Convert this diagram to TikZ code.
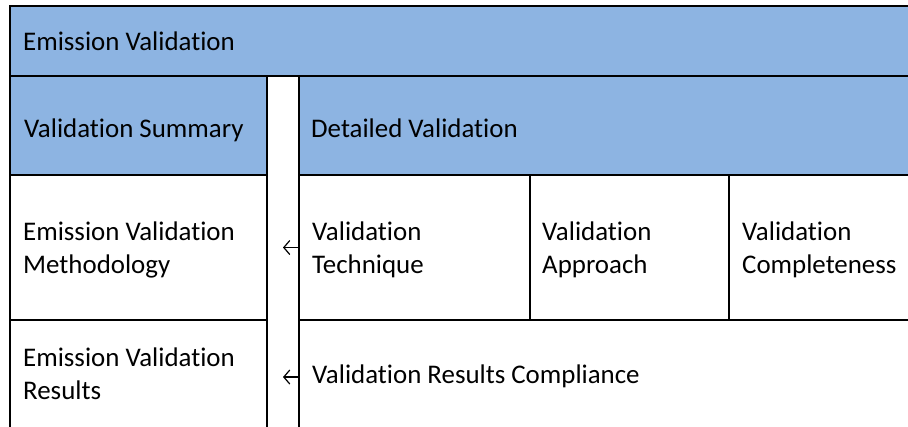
\documentclass[tikz,border=0pt]{standalone}
\usepackage{fontspec}
\setmainfont[Ligatures=NoCommon]{Carlito}
\usetikzlibrary{arrows.meta,calc}
\definecolor{hdr}{RGB}{141,180,226}
\begin{document}
\begin{tikzpicture}[x=1pt,y=-1pt,
  cell/.style={draw=black, line width=1.8pt, rectangle, inner sep=0pt, outer sep=0pt, anchor=north west},
  hcell/.style={cell, fill=hdr},
  lbl/.style={anchor=base west, inner sep=0pt, align=left, font=\fontsize{26.9}{32.3}\selectfont},
  arr/.style={-{Straight Barb[length=6pt,width=14pt,line width=1.2pt]}, line width=1.2pt}]
\useasboundingbox (0,0) rectangle (908,426);
\clip (0,0) rectangle (908,426);
% cells
\node[hcell, minimum width=950pt, minimum height=70pt] (top) at (10,6) {};
\node[hcell, minimum width=257pt, minimum height=99pt] (sum) at (10,76) {};
\node[hcell, minimum width=660pt, minimum height=99pt] (det) at (299,76) {};
\node[cell, minimum width=257pt, minimum height=145pt] (meth) at (10,175) {};
\node[cell, minimum width=231pt, minimum height=145pt] (tech) at (299,175) {};
\node[cell, minimum width=199pt, minimum height=145pt] (appr) at (530,175) {};
\node[cell, minimum width=240pt, minimum height=145pt] (comp) at (729,175) {};
\node[cell, minimum width=257pt, minimum height=140pt] (res) at (10,320) {};
\node[cell, minimum width=660pt, minimum height=140pt] (compl) at (299,320) {};
% labels
\node[lbl] (ltop) at (23,50) {Emission Validation};
\node[lbl] (lsum) at (24,137) {Validation Summary};
\node[lbl] (ldet) at (311,137) {Detailed Validation};
\node[lbl] (lmeth) at (23,273) {Emission Validation\\Methodology};
\node[lbl] (ltech) at (312,273) {Validation\\Technique};
\node[lbl] (lappr) at (542,273) {Validation\\Approach};
\node[lbl] (lcomp) at (742,273) {Validation\\Completeness};
\node[lbl] (lres) at (23,399) {Emission Validation\\Results};
\node[lbl] (lcompl) at (312,383) {Validation Results Compliance};
% arrows
\coordinate (a1) at ($(tech.west)+(-16,0)$);
\coordinate (s2) at (compl.north west |- 0,377);
\coordinate (a2) at ($(s2)+(-16,0)$);
\draw[arr] (tech.west) -- (a1);
\draw[arr] (s2) -- (a2);
\end{tikzpicture}
\end{document}
